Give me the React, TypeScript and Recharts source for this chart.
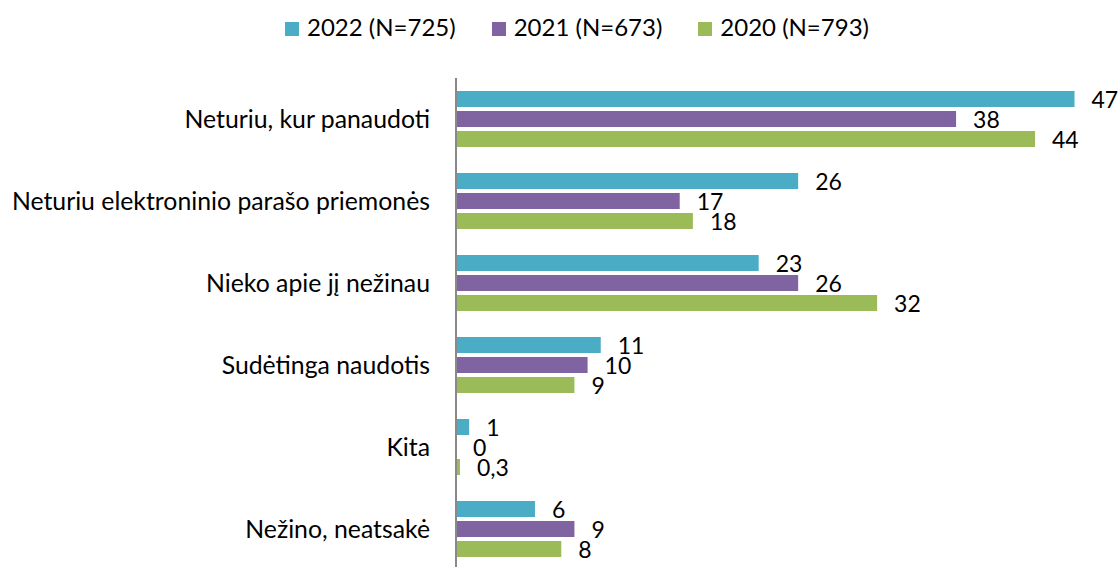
import { BarChart, Bar, XAxis, YAxis, LabelList } from 'recharts'

const categories = [
  "Neturiu, kur panaudoti",
  "Neturiu elektroninio parašo priemonės",
  "Nieko apie jį nežinau",
  "Sudėtinga naudotis",
  "Kita",
  "Nežino, neatsakė",
]

const values2022 = [47, 26, 23, 11, 1, 6]
const values2021 = [38, 17, 26, 10, 0, 9]
const values2020 = [44, 18, 32, 9, 0.3, 8]

const series = [
  { key: "y2022", name: "2022 (N=725)", color: "#4BACC6" },
  { key: "y2021", name: "2021 (N=673)", color: "#8064A2" },
  { key: "y2020", name: "2020 (N=793)", color: "#9BBB59" },
]

const data = categories.map((name, i) => ({
  name,
  y2022: values2022[i],
  y2021: values2021[i],
  y2020: values2020[i],
}))

const font = "Lato, 'Open Sans', sans-serif"

const renderValue = (props: any) => {
  const { x, y, width, height, value } = props
  return (
    <text
      x={Number(x) + Math.max(Number(width) || 0, 0) + 17}
      y={Number(y) + Number(height) / 2}
      dominantBaseline="central"
      fill="#000"
      fontSize={23}
      fontFamily={font}
    >
      {String(value).replace('.', ',')}
    </text>
  )
}

// keeps zero-valued bars in the layout so their "0" label still shows
const tinyForZero = (v: any) => (v === 0 ? 0.01 : 0)

export default function App() {
  return (
    <div style={{ position: 'absolute', left: 0, top: 0, width: 1118, height: 567, overflow: 'hidden', background: '#fff', fontFamily: font }}>
      <div style={{ position: 'absolute', top: 13, left: 285, display: 'flex', gap: 36, fontSize: 24, lineHeight: 1.2, color: '#000' }}>
        {series.map((s) => (
          <div key={s.key} style={{ display: 'flex', alignItems: 'baseline' }}>
            <span style={{ width: 14, height: 14, background: s.color, marginRight: 8, display: 'inline-block' }} />
            <span>{s.name}</span>
          </div>
        ))}
      </div>
      <BarChart
        width={1118}
        height={573}
        data={data}
        layout="vertical"
        margin={{ top: 78, right: 4, left: 0, bottom: 3 }}
        barSize={16}
        barGap={4}
      >
        <XAxis type="number" domain={[0, 50]} hide />
        <YAxis
          type="category"
          dataKey="name"
          width={456}
          tickLine={false}
          tickSize={0}
          tickMargin={26}
          axisLine={{ stroke: '#898989', strokeWidth: 2 }}
          tick={{ fill: '#000', fontSize: 24.8, fontFamily: font }}
        />
        {series.map((s) => (
          <Bar key={s.key} dataKey={s.key} name={s.name} fill={s.color} minPointSize={tinyForZero} isAnimationActive={false}>
            <LabelList dataKey={s.key} content={renderValue} />
          </Bar>
        ))}
      </BarChart>
    </div>
  )
}
